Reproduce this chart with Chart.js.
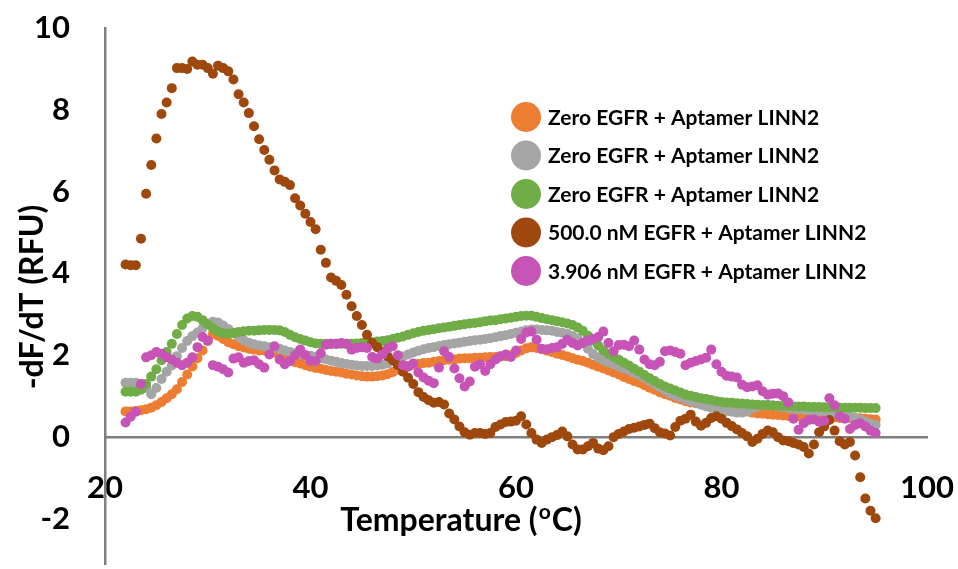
<!DOCTYPE html>
<html>
<head>
<meta charset="utf-8">
<title>-dF/dT melt curves</title>
<script src="https://cdn.jsdelivr.net/npm/chart.js@4.4.1/dist/chart.umd.min.js"></script>
<style>
  html, body { margin: 0; padding: 0; background: #fff; }
  #wrap { width: 958px; height: 569px; position: relative; }
</style>
</head>
<body>
<div id="wrap"><canvas id="melt-chart"></canvas></div>
<script>
// temperature readings (°C)
const temps = [
  22, 22.5, 23, 23.5, 24, 24.5, 25, 25.5, 26, 26.5,
  27, 27.5, 28, 28.5, 29, 29.5, 30, 30.5, 31, 31.5,
  32, 32.5, 33, 33.5, 34, 34.5, 35, 35.5, 36, 36.5,
  37, 37.5, 38, 38.5, 39, 39.5, 40, 40.5, 41, 41.5,
  42, 42.5, 43, 43.5, 44, 44.5, 45, 45.5, 46, 46.5,
  47, 47.5, 48, 48.5, 49, 49.5, 50, 50.5, 51, 51.5,
  52, 52.5, 53, 53.5, 54, 54.5, 55, 55.5, 56, 56.5,
  57, 57.5, 58, 58.5, 59, 59.5, 60, 60.5, 61, 61.5,
  62, 62.5, 63, 63.5, 64, 64.5, 65, 65.5, 66, 66.5,
  67, 67.5, 68, 68.5, 69, 69.5, 70, 70.5, 71, 71.5,
  72, 72.5, 73, 73.5, 74, 74.5, 75, 75.5, 76, 76.5,
  77, 77.5, 78, 78.5, 79, 79.5, 80, 80.5, 81, 81.5,
  82, 82.5, 83, 83.5, 84, 84.5, 85, 85.5, 86, 86.5,
  87, 87.5, 88, 88.5, 89, 89.5, 90, 90.5, 91, 91.5,
  92, 92.5, 93, 93.5, 94, 94.5, 95
];

// -dF/dT (RFU), one value per temperature
const zeroEgfrA = [
  0.63, 0.63, 0.64, 0.66, 0.68, 0.72, 0.78, 0.86, 0.95, 1.05,
  1.17, 1.35, 1.53, 1.73, 1.93, 2.12, 2.35, 2.52, 2.48, 2.40,
  2.32, 2.27, 2.22, 2.19, 2.16, 2.14, 2.12, 2.12, 2.11, 2.07,
  2.02, 1.95, 1.88, 1.83, 1.80, 1.76, 1.72, 1.69, 1.67, 1.64,
  1.62, 1.60, 1.58, 1.55, 1.53, 1.51, 1.49, 1.48, 1.48, 1.49,
  1.51, 1.54, 1.59, 1.65, 1.70, 1.74, 1.77, 1.79, 1.81, 1.82,
  1.84, 1.86, 1.88, 1.89, 1.90, 1.92, 1.93, 1.93, 1.94, 1.94,
  1.95, 1.96, 1.96, 1.97, 1.98, 2.00, 2.06, 2.12, 2.17, 2.20,
  2.18, 2.15, 2.11, 2.08, 2.04, 2.01, 1.97, 1.93, 1.89, 1.86,
  1.82, 1.77, 1.72, 1.68, 1.63, 1.58, 1.53, 1.47, 1.42, 1.37,
  1.33, 1.27, 1.21, 1.16, 1.10, 1.05, 1.01, 0.96, 0.92, 0.88,
  0.85, 0.83, 0.81, 0.79, 0.78, 0.76, 0.75, 0.74, 0.72, 0.71,
  0.68, 0.64, 0.60, 0.58, 0.57, 0.56, 0.55, 0.54, 0.53, 0.52,
  0.51, 0.51, 0.51, 0.51, 0.51, 0.51, 0.50, 0.49, 0.48, 0.47,
  0.47, 0.47, 0.47, 0.46, 0.45, 0.44, 0.43
];

const zeroEgfrB = [
  1.33, 1.33, 1.33, 1.30, 1.20, 1.05, 1.20, 1.42, 1.60, 1.75,
  1.98, 2.18, 2.35, 2.47, 2.56, 2.66, 2.77, 2.82, 2.80, 2.73,
  2.64, 2.55, 2.46, 2.37, 2.31, 2.27, 2.24, 2.22, 2.20, 2.18,
  2.16, 2.12, 2.08, 2.05, 2.03, 2.01, 1.99, 1.96, 1.93, 1.90,
  1.87, 1.84, 1.81, 1.79, 1.77, 1.75, 1.74, 1.74, 1.74, 1.75,
  1.77, 1.80, 1.86, 1.92, 1.97, 2.02, 2.07, 2.11, 2.15, 2.18,
  2.20, 2.23, 2.25, 2.27, 2.29, 2.31, 2.33, 2.35, 2.37, 2.38,
  2.40, 2.42, 2.44, 2.47, 2.49, 2.52, 2.55, 2.58, 2.61, 2.63,
  2.63, 2.62, 2.61, 2.60, 2.57, 2.55, 2.52, 2.47, 2.41, 2.30,
  2.16, 2.03, 1.94, 1.88, 1.83, 1.78, 1.73, 1.68, 1.63, 1.57,
  1.52, 1.45, 1.37, 1.30, 1.22, 1.14, 1.07, 1.02, 0.97, 0.92,
  0.88, 0.84, 0.79, 0.75, 0.72, 0.69, 0.67, 0.64, 0.62, 0.60,
  0.60, 0.63, 0.70, 0.75, 0.78, 0.79, 0.78, 0.76, 0.73, 0.71,
  0.69, 0.68, 0.67, 0.66, 0.65, 0.64, 0.62, 0.61, 0.60, 0.59,
  0.55, 0.51, 0.47, 0.43, 0.38, 0.33, 0.30
];

const zeroEgfrC = [
  1.11, 1.11, 1.11, 1.16, 1.30, 1.48, 1.66, 1.88, 2.08, 2.28,
  2.52, 2.74, 2.90, 2.96, 2.94, 2.86, 2.76, 2.66, 2.58, 2.54,
  2.53, 2.54, 2.57, 2.59, 2.60, 2.60, 2.61, 2.62, 2.62, 2.62,
  2.61, 2.57, 2.50, 2.44, 2.40, 2.36, 2.32, 2.29, 2.28, 2.28,
  2.28, 2.28, 2.28, 2.28, 2.28, 2.29, 2.30, 2.31, 2.32, 2.34,
  2.35, 2.37, 2.40, 2.43, 2.46, 2.50, 2.54, 2.57, 2.60, 2.62,
  2.64, 2.66, 2.68, 2.70, 2.72, 2.74, 2.76, 2.78, 2.79, 2.81,
  2.83, 2.85, 2.86, 2.88, 2.90, 2.92, 2.94, 2.96, 2.97, 2.97,
  2.94, 2.91, 2.88, 2.86, 2.83, 2.81, 2.78, 2.74, 2.68, 2.60,
  2.48, 2.36, 2.24, 2.12, 2.04, 1.96, 1.89, 1.82, 1.75, 1.67,
  1.60, 1.52, 1.44, 1.37, 1.30, 1.24, 1.19, 1.14, 1.09, 1.04,
  1.01, 0.98, 0.95, 0.93, 0.91, 0.88, 0.86, 0.85, 0.84, 0.83,
  0.82, 0.81, 0.80, 0.79, 0.78, 0.78, 0.77, 0.77, 0.76, 0.76,
  0.75, 0.75, 0.75, 0.74, 0.74, 0.74, 0.73, 0.73, 0.73, 0.72,
  0.72, 0.72, 0.72, 0.72, 0.71, 0.71, 0.71
];

const egfr500 = [
  4.22, 4.20, 4.20, 4.85, 5.95, 6.65, 7.30, 7.90, 8.18, 8.53,
  9.02, 9.02, 9.00, 9.18, 9.10, 9.10, 9.02, 8.88, 9.08, 9.02,
  8.94, 8.74, 8.38, 8.18, 7.92, 7.60, 7.28, 7.02, 6.78, 6.52,
  6.30, 6.24, 6.16, 5.84, 5.66, 5.46, 5.26, 5.08, 4.58, 4.26,
  3.90, 3.82, 3.72, 3.48, 3.20, 2.96, 2.74, 2.50, 2.30, 2.20,
  2.08, 1.98, 1.88, 1.76, 1.60, 1.45, 1.30, 1.10, 0.98, 0.90,
  0.84, 0.86, 0.80, 0.58, 0.43, 0.26, 0.12, 0.06, 0.10, 0.10,
  0.08, 0.10, 0.25, 0.31, 0.37, 0.38, 0.40, 0.51, 0.31, 0.10,
  -0.06, -0.14, -0.06, 0.00, 0.05, 0.14, 0.02, -0.18, -0.30, -0.30,
  -0.22, -0.14, -0.28, -0.32, -0.22, 0.00, 0.08, 0.14, 0.20, 0.23,
  0.26, 0.30, 0.33, 0.22, 0.12, 0.09, 0.04, 0.25, 0.40, 0.45,
  0.55, 0.38, 0.28, 0.35, 0.47, 0.51, 0.45, 0.35, 0.27, 0.19,
  0.10, 0.02, -0.12, -0.04, 0.08, 0.16, 0.12, 0.00, -0.08, -0.10,
  -0.14, -0.18, -0.24, -0.40, -0.18, 0.12, 0.26, 0.42, 0.16, -0.10,
  -0.18, -0.12, -0.45, -0.98, -1.50, -1.80, -1.98
];

const egfr3906 = [
  0.36, 0.50, 0.62, 1.30, 1.95, 2.00, 2.08, 2.04, 1.95, 1.90,
  1.82, 1.76, 1.82, 1.95, 2.20, 2.45, 2.36, 1.76, 1.72, 1.66,
  1.58, 1.92, 1.95, 1.82, 1.86, 1.88, 1.78, 1.70, 2.02, 2.22,
  1.90, 1.78, 1.86, 2.00, 2.14, 2.00, 1.86, 1.86, 2.05, 2.26,
  2.28, 2.28, 2.30, 2.28, 2.14, 2.18, 2.20, 2.18, 1.96, 1.92,
  2.02, 2.16, 2.22, 2.00, 1.76, 1.72, 1.80, 1.58, 1.46, 1.38,
  1.32, 1.70, 2.10, 1.96, 1.68, 1.44, 1.24, 1.36, 1.72, 1.78,
  1.62, 1.78, 1.90, 1.98, 2.02, 1.96, 2.12, 2.40, 2.56, 2.58,
  2.38, 2.16, 2.15, 2.18, 2.20, 2.28, 2.38, 2.30, 2.24, 2.30,
  2.36, 2.40, 2.45, 2.58, 2.30, 2.10, 2.25, 2.26, 2.22, 2.36,
  2.14, 1.90, 1.78, 1.76, 1.84, 2.10, 2.12, 2.08, 2.04, 1.76,
  1.82, 1.86, 1.90, 1.94, 2.14, 1.78, 1.60, 1.50, 1.48, 1.46,
  1.28, 1.22, 1.24, 1.27, 1.12, 1.04, 1.06, 1.07, 1.00, 0.85,
  0.45, 0.18, 0.34, 0.42, 0.43, 0.38, 0.40, 0.95, 0.78, 0.51,
  0.45, 0.20, 0.30, 0.34, 0.26, 0.16, 0.10
];

const seriesNames = [
  'Zero EGFR + Aptamer LINN2',
  'Zero EGFR + Aptamer LINN2',
  'Zero EGFR + Aptamer LINN2',
  '500.0 nM EGFR + Aptamer LINN2',
  '3.906 nM EGFR + Aptamer LINN2',
];
const seriesColors = ['#ED7D31', '#A5A5A5', '#70AD47', '#9E480E', '#C653B5'];
const seriesValues = [zeroEgfrA, zeroEgfrB, zeroEgfrC, egfr500, egfr3906];

const xTicks = [20, 40, 60, 80, 100];
const yTicks = [-2, 0, 2, 4, 6, 8, 10];
const xTitle = ['Temperature (', 'o', 'C)'];
const yTitle = '-dF/dT (RFU)';

const FONT = 'Lato, "Open Sans", sans-serif';

// legend drawn inside the plot, to the right of the peaks
const legendBox = {
	id: 'legendBox',
	afterDraw(chart) {
		const ctx = chart.ctx;
		ctx.save();
		ctx.font = `bold 21px ${FONT}`;
		ctx.textBaseline = 'middle';
		chart.data.datasets.forEach((ds, i) => {
			const y = 117 + i * 38.5;
			ctx.beginPath();
			ctx.arc(526, y, 15, 0, Math.PI * 2);
			ctx.fillStyle = ds.backgroundColor;
			ctx.fill();
			ctx.fillStyle = '#000';
			ctx.fillText(ds.label, 548, y + 1);
		});
		ctx.restore();
	}
};

// axis titles; the x title needs a raised "o" for degrees
const axisTitles = {
	id: 'axisTitles',
	afterDraw(chart) {
		const ctx = chart.ctx;
		ctx.save();
		ctx.fillStyle = '#000';
		ctx.textBaseline = 'alphabetic';

		const big = `bold 32px ${FONT}`;
		const small = `bold 21px ${FONT}`;
		ctx.font = big;
		const w0 = ctx.measureText(xTitle[0]).width;
		const w2 = ctx.measureText(xTitle[2]).width;
		ctx.font = small;
		const w1 = ctx.measureText(xTitle[1]).width + 2;
		let x = 461 - (w0 + w1 + w2) / 2;
		const y = 531;
		ctx.font = big;
		ctx.fillText(xTitle[0], x, y);
		x += w0;
		ctx.font = small;
		ctx.fillText(xTitle[1], x + 1, y - 12);
		x += w1;
		ctx.font = big;
		ctx.fillText(xTitle[2], x, y);

		ctx.translate(43, 297);
		ctx.rotate(-Math.PI / 2);
		ctx.textAlign = 'center';
		ctx.fillText(yTitle, 0, 0);
		ctx.restore();
	}
};

const datasets = seriesValues.map((values, i) => ({
	label: seriesNames[i],
	data: values.map((v, j) => ({ x: temps[j], y: v })),
	backgroundColor: seriesColors[i],
	borderColor: seriesColors[i],
	pointRadius: 5,
	pointHoverRadius: 5,
	pointBorderWidth: 0,
	order: seriesValues.length - i,
}));

const tickFont = { family: FONT, size: 31, weight: 'bold' };

new Chart(document.getElementById('melt-chart').getContext('2d'), {
	type: 'scatter',
	data: { datasets },
	options: {
		responsive: true,
		maintainAspectRatio: false,
		animation: false,
		events: [],
		layout: {
			padding: { top: 28, right: 31, bottom: 0, left: 0 },
		},
		scales: {
			x: {
				type: 'linear',
				position: { y: 0 },
				min: 20,
				max: 100,
				afterBuildTicks: s => { s.ticks = xTicks.map(v => ({ value: v })); },
				afterFit: s => { s.height = 0; s.paddingLeft = 0; s.paddingRight = 0; },
				ticks: { padding: 32, color: '#000', font: tickFont, maxRotation: 0 },
				grid: { display: false, drawTicks: false },
				border: { display: true, color: '#7f7f7f', width: 2.5 },
			},
			y: {
				type: 'linear',
				position: 'left',
				min: -3.1,
				max: 10,
				afterBuildTicks: s => { s.ticks = yTicks.map(v => ({ value: v })); },
				afterFit: s => { s.width = 105; s.paddingTop = 0; s.paddingBottom = 0; },
				ticks: { padding: 35, color: '#000', font: tickFont },
				grid: { display: false, drawTicks: false },
				border: { display: true, color: '#7f7f7f', width: 2.5 },
			},
		},
		plugins: {
			legend: { display: false },
			tooltip: { enabled: false },
		},
	},
	plugins: [legendBox, axisTitles],
});
</script>
</body>
</html>
